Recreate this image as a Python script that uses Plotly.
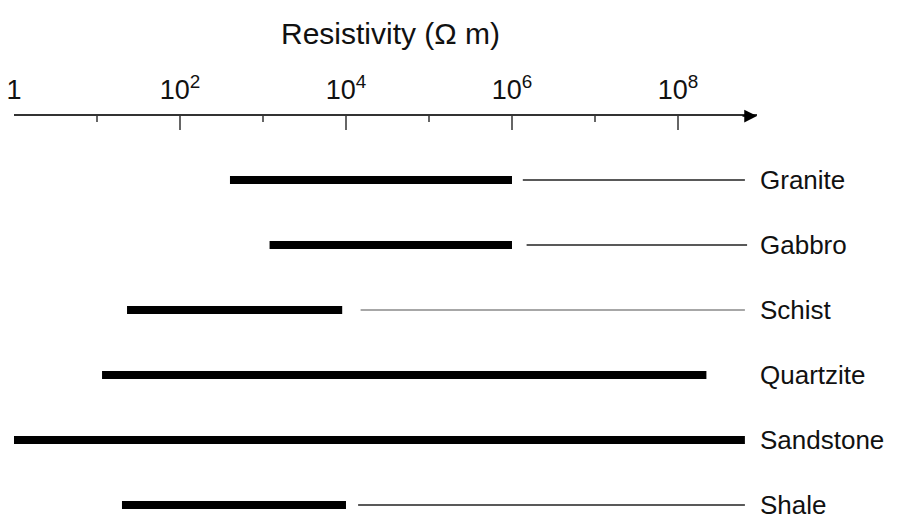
import plotly.graph_objects as go

# ---- data (resistivity in ohm-m) ----
rocks = ["Granite", "Gabbro", "Schist", "Quartzite", "Sandstone", "Shale"]
range_lo = [400, 1200, 23, 11.5, 1, 20]
range_hi = [1e6, 1e6, 9e3, 2.2e8, 6.4e8, 1e4]
ext_rocks = ["Granite", "Gabbro", "Schist", "Shale"]
ext_lo = [1.35e6, 1.5e6, 1.5e4, 1.4e4]
ext_hi = [6.4e8, 6.8e8, 6.4e8, 6.4e8]
ext_colors = ["#222222", "#222222", "#8a8a8a", "#222222"]

major_ticks = [1, 1e2, 1e4, 1e6, 1e8]
major_text = ["1", "10<sup>2</sup>", "10<sup>4</sup>", "10<sup>6</sup>", "10<sup>8</sup>"]
minor_ticks = [10, 1e3, 1e5, 1e7]
x_max_log = 8.952
title_text = "Resistivity (\u03A9 m)"

W, H = 898, 519
FONT = "Liberation Sans, Arial, sans-serif"

fig = go.Figure()

# thick ranges
for r, lo, hi in zip(rocks, range_lo, range_hi):
    fig.add_trace(go.Scatter(x=[lo, hi], y=[r, r], mode="lines",
                             line=dict(color="#000000", width=8),
                             hoverinfo="skip", showlegend=False))
# thin extensions
for r, lo, hi, c in zip(ext_rocks, ext_lo, ext_hi, ext_colors):
    fig.add_trace(go.Scatter(x=[lo, hi], y=[r, r], mode="lines",
                             line=dict(color=c, width=1.6),
                             hoverinfo="skip", showlegend=False))

fig.update_layout(
    width=W, height=H,
    margin=dict(l=0, r=0, t=0, b=0, autoexpand=False),
    paper_bgcolor="white", plot_bgcolor="white",
    font=dict(family=FONT, color="#111111"),
    xaxis=dict(
        type="log", range=[0, x_max_log],
        domain=[14 / W, 757 / W],
        side="top", automargin=False,
        tickmode="array", tickvals=major_ticks, ticktext=major_text,
        ticks="inside", ticklen=14, tickwidth=2, tickcolor="#666666",
        minor=dict(tickmode="array", tickvals=minor_ticks, ticks="inside",
                   ticklen=6, tickwidth=2, tickcolor="#666666", showgrid=False),
        showline=True, linecolor="#333333", linewidth=2,
        showgrid=False, zeroline=False,
        tickfont=dict(size=27, family=FONT, color="#111111"),
        ticklabelstandoff=4,
        fixedrange=True,
    ),
    yaxis=dict(
        type="category", categoryorder="array", categoryarray=rocks,
        range=[5.215, -0.985],
        domain=[0, (H - 116) / H],
        side="right", anchor="x", automargin=False,
        showline=False, showgrid=False, zeroline=False, ticks="",
        tickfont=dict(size=26, family=FONT, color="#111111"),
        ticklabelstandoff=2,
        fixedrange=True,
    ),
    annotations=[
        dict(text=title_text, xref="paper", yref="paper",
             x=390 / W, y=1 - 33 / H, xanchor="center", yanchor="middle",
             showarrow=False, font=dict(size=30, family=FONT, color="#111111")),
        dict(text="", xref="x domain", yref="y domain", x=1, y=1,
             showarrow=True, ax=-16, ay=0, arrowhead=2, arrowsize=1.7,
             arrowwidth=1.5, arrowcolor="#000000"),
    ],
)

fig.write_html("out.html")
